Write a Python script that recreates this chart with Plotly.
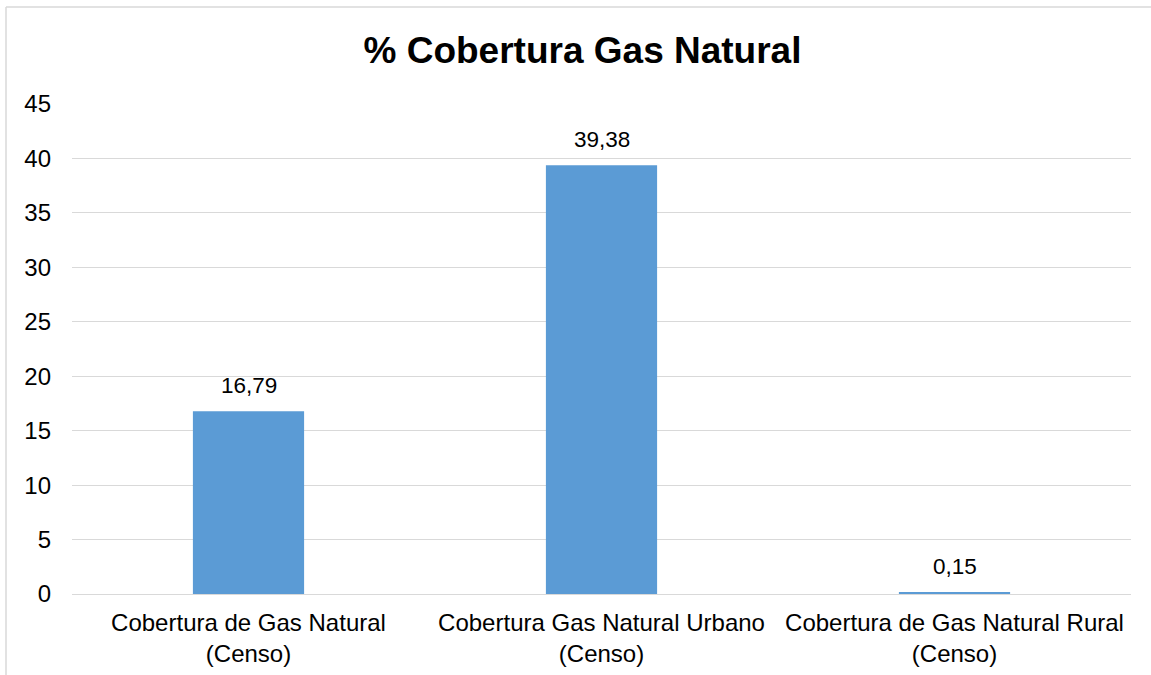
import plotly.graph_objects as go

categories = ["Cobertura de Gas Natural<br>(Censo)",
              "Cobertura Gas Natural Urbano<br>(Censo)",
              "Cobertura de Gas Natural Rural<br>(Censo)"]
values = [16.79, 39.38, 0.15]
value_labels = ["16,79", "39,38", "0,15"]
y_ticks = [0, 5, 10, 15, 20, 25, 30, 35, 40, 45]

W, H = 1151, 675
ML, MR, MT, MB = 72, 20, 104, 81
pw, ph = W - ML - MR, H - MT - MB
FONT = "Liberation Sans, Arial"

def px_x(x):
    return (x - ML) / pw

def px_y(y):
    return (H - MB - y) / ph

fig = go.Figure(go.Bar(
    x=categories, y=values,
    marker=dict(color="#5B9BD5", line=dict(width=0)),
))

for c, v, t in zip(categories, values, value_labels):
    fig.add_annotation(x=c, y=v, text=t, showarrow=False, yanchor="middle",
                       yshift=26, font=dict(size=22.5, color="#000000", family=FONT))

fig.update_layout(
    width=W, height=H,
    margin=dict(l=ML, r=MR, t=MT, b=MB, autoexpand=False),
    paper_bgcolor="white", plot_bgcolor="white",
    bargap=0.685,
    font=dict(family=FONT, size=24, color="#000000"),
    title=dict(text="<b>% Cobertura Gas Natural</b>", x=582.5 / W, xanchor="center",
               xref="container", y=1 - 50 / H, yanchor="middle",
               font=dict(size=37, color="#000000", family=FONT)),
    xaxis=dict(showgrid=False, showline=False, ticks="", tickfont=dict(size=24),
               ticklabelstandoff=12, automargin=False),
    yaxis=dict(range=[0, 45], tickvals=y_ticks, showgrid=True, gridcolor="#d9d9d9",
               gridwidth=1.3, zeroline=True, zerolinecolor="#d9d9d9", zerolinewidth=1.3,
               showline=False, ticks="", tickfont=dict(size=24), ticklabelstandoff=20,
               automargin=False),
    showlegend=False,
    shapes=[
        dict(type="line", xref="paper", yref="paper", x0=px_x(6), x1=px_x(W + 5),
             y0=px_y(7), y1=px_y(7), line=dict(color="#d9d9d9", width=1.5)),
        dict(type="line", xref="paper", yref="paper", x0=px_x(6), x1=px_x(6),
             y0=px_y(7), y1=px_y(H + 5), line=dict(color="#d9d9d9", width=1.5)),
    ],
)

fig.write_html("out.html", config={"displayModeBar": False},
               post_script="document.body.style.margin='0';")
